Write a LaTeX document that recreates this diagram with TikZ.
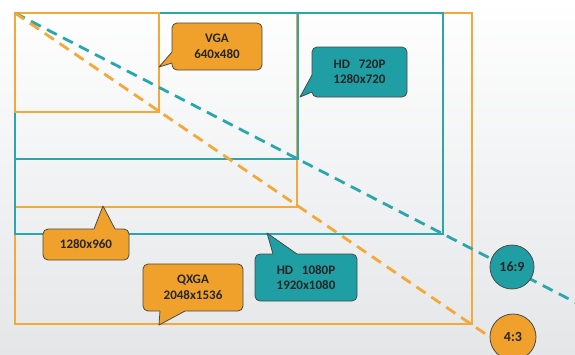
\documentclass[tikz,border=0pt]{standalone}
\usepackage{fontspec}
\setmainfont{Carlito}
\usetikzlibrary{calc}
\definecolor{org}{HTML}{F4A838}
\definecolor{orgfill}{HTML}{EFA12C}
\definecolor{tl}{HTML}{2AA7AE}
\definecolor{tlfill}{HTML}{1F9EA4}
\definecolor{edge}{HTML}{4A4A4A}
\definecolor{bgbot}{HTML}{E4E6E8}
\newcommand\mytail[5]{%
  \fill[#1] #2 -- #3 -- #4 -- ($#4+#5$) -- ($#2+#5$) -- cycle;
  \draw[edge,line width=0.8pt,line join=round] #2 -- #3 -- #4;}
\begin{document}
\begin{tikzpicture}[x=1pt,y=-1pt,
  frameO/.style={draw=org,line width=2.3pt},
  frameT/.style={draw=tl,line width=2.1pt},
  diag/.style={dash pattern=on 11pt off 7pt,line width=2.8pt},
  callbox/.style={rounded corners=5pt,draw=edge,line width=0.8pt,inner sep=0pt,
    font=\bfseries\fontsize{13}{15.5}\selectfont,align=center,text=black!85},
  ratio/.style={circle,draw=edge,line width=0.8pt,inner sep=0pt,
    font=\bfseries\fontsize{14}{16}\selectfont,text=black!85}]
\useasboundingbox (0,0) rectangle (575,354);
\shade[top color=white,bottom color=bgbot] (0,0) rectangle (575,354);
% resolution frames
\draw[frameO] (15,13) rectangle (472,324);
\draw[frameO] (15,13) rectangle (297,207);
\draw[frameT] (15,13) rectangle (443,234);
\draw[frameT] (15,13) rectangle (298,159);
\draw[frameO] (15,13) rectangle (159,112);
% diagonals
\coordinate (o) at (15,13);
\coordinate (tEnd) at (600,315);
\coordinate (oEnd) at (490,337);
\draw[diag,draw=tl] (o) -- (tEnd);
\draw[diag,draw=org] (o) -- (oEnd);
% ratio nodes
\node[ratio,fill=tlfill,minimum size=44pt] (r169) at (512,267) {16:9};
\node[ratio,fill=orgfill,minimum size=46pt] (r43) at (513,337) {4:3};
% callouts
\node[callbox,fill=orgfill,minimum width=90pt,minimum height=47pt] (vga) at (217,46.5) {VGA\\640x480};
\mytail{orgfill}{(172,52)}{(159,67)}{(172,63)}{(3,0)}
\node[callbox,fill=tlfill,minimum width=95pt,minimum height=50pt] (hd720) at (359.5,72) {HD\ \ \ 720P\\1280x720};
\mytail{tlfill}{(312,75)}{(300,97)}{(312,92)}{(3,0)}
\node[callbox,fill=orgfill,minimum width=86pt,minimum height=31pt] (sxga) at (86,244.5) {1280x960};
\mytail{orgfill}{(94,229)}{(103,206)}{(115,229)}{(0,3)}
\node[callbox,fill=orgfill,minimum width=100pt,minimum height=47pt] (qxga) at (193,287.5) {QXGA\\2048x1536};
\mytail{orgfill}{(160,311)}{(159,325)}{(185,311)}{(0,-3)}
\node[callbox,fill=tlfill,minimum width=102pt,minimum height=47pt] (hd1080) at (306,277.5) {HD\ \ \ 1080P\\1920x1080};
\mytail{tlfill}{(273,254)}{(267,233)}{(297,254)}{(0,3)}
\end{tikzpicture}
\end{document}
